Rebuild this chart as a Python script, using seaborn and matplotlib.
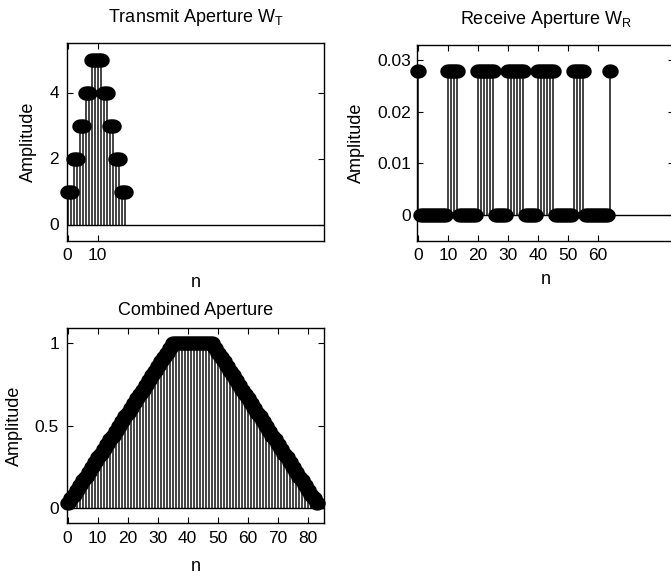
import numpy as np
import matplotlib
matplotlib.use("Agg")
import matplotlib.pyplot as plt
from matplotlib.path import Path
from matplotlib.ticker import FuncFormatter
import seaborn as sns

# ---- data -------------------------------------------------------------
# transmit aperture weights, n = 0..19
tx_weights = [1, 1, 2, 2, 3, 3, 4, 4, 5, 5, 5, 5, 4, 4, 3, 3, 2, 2, 1, 1]

# receive aperture: active elements (1) / inactive (0), n = 0..64
rx_pattern = [1,
              0, 0, 0, 0, 0, 0, 0, 0, 0,
              1, 1, 1, 1,
              0, 0, 0, 0, 0, 0,
              1, 1, 1, 1, 1, 1,
              0, 0, 0, 0,
              1, 1, 1, 1, 1, 1,
              0, 0, 0, 0,
              1, 1, 1, 1, 1, 1,
              0, 0, 0, 0, 0, 0,
              1, 1, 1, 1,
              0, 0, 0, 0, 0, 0, 0, 0,
              1]
rx_level = 0.0278

# combined aperture, n = 0..83
combined = [0.03, 0.06, 0.08, 0.11, 0.14, 0.17, 0.19, 0.22, 0.25, 0.28,
            0.31, 0.33, 0.36, 0.39, 0.42, 0.44, 0.47, 0.50, 0.53, 0.56,
            0.58, 0.61, 0.64, 0.67, 0.69, 0.72, 0.75, 0.78, 0.81, 0.83,
            0.86, 0.89, 0.92, 0.94, 0.97, 1.00, 1.00, 1.00, 1.00, 1.00,
            1.00, 1.00, 1.00, 1.00, 1.00, 1.00, 1.00, 1.00, 1.00, 0.97,
            0.94, 0.92, 0.89, 0.86, 0.83, 0.81, 0.78, 0.75, 0.72, 0.69,
            0.67, 0.64, 0.61, 0.58, 0.56, 0.53, 0.50, 0.47, 0.44, 0.42,
            0.39, 0.36, 0.33, 0.31, 0.28, 0.25, 0.22, 0.19, 0.17, 0.14,
            0.11, 0.08, 0.06, 0.03]

titles = [r"Transmit Aperture W$_T$", r"Receive Aperture W$_R$", "Combined Aperture"]

n_tx = np.arange(len(tx_weights))
rx_amp = np.array(rx_pattern) * rx_level
n_rx = np.arange(len(rx_amp))
cb_amp = np.array(combined)
n_cb = np.arange(len(cb_amp))

# ---- style ------------------------------------------------------------
sns.set_theme(style="ticks")
plt.rcParams["font.family"] = ["Liberation Sans", "DejaVu Sans"]
plt.rcParams["mathtext.default"] = "regular"
plt.rcParams["axes.linewidth"] = 1.0

# slightly wide filled oval used as stem head
t = np.linspace(0, 2 * np.pi, 60)
oval = Path(np.column_stack([1.15 * np.cos(t), np.sin(t)]), closed=True)

W, H = 671, 576
fig = plt.figure(figsize=(W / 100, H / 100), dpi=100)
fig.patch.set_facecolor("white")


def px_axes(left, top, right, bottom):
    return fig.add_axes([left / W, 1 - bottom / H, (right - left) / W, (bottom - top) / H])


def stem(ax, n, y):
    ax.axhline(0, color="black", lw=1.0, zorder=1)
    ax.vlines(n, 0, y, colors="#111111", lw=1.1, zorder=2)
    sns.scatterplot(x=n, y=y, ax=ax, marker=oval, s=140, color="black",
                    edgecolor="black", linewidth=0, legend=False, zorder=3)
    ax.collections[-1].set_clip_on(False)


def style(ax, xticks, yticks, ylim, title, title_pad, ylab_x, xlab_y, xpad, ypad):
    ax.set_facecolor("white")
    ax.set_xlim(-0.3, 85.5)
    ax.set_ylim(*ylim)
    ax.set_xticks(xticks)
    ax.set_yticks(yticks)
    ax.yaxis.set_major_formatter(FuncFormatter(lambda v, p: "%g" % v))
    ax.xaxis.set_major_formatter(FuncFormatter(lambda v, p: "%g" % v))
    ax.tick_params(axis="both", direction="in", length=4, width=0.8,
                   top=True, right=True, labelsize=12.5, colors="black")
    ax.tick_params(axis="x", pad=xpad)
    ax.tick_params(axis="y", pad=ypad)
    for s in ax.spines.values():
        s.set_visible(True)
        s.set_color("black")
    ax.set_title(title, fontsize=13, pad=title_pad, color="black")
    ax.set_xlabel("n", fontsize=13, color="black")
    ax.set_ylabel("Amplitude", fontsize=13, color="black")
    ax.yaxis.set_label_coords(ylab_x, 0.5)
    ax.xaxis.set_label_coords(0.5, xlab_y)


ax_tx = px_axes(66.7, 43, 324.1, 241)
stem(ax_tx, n_tx, np.array(tx_weights))
style(ax_tx, [0, 10], [0, 2, 4], (-0.5, 5.5), titles[0], 15, -0.115, -0.167, 5, 5.5)

ax_rx = px_axes(417.0, 45, 674.4, 241)
stem(ax_rx, n_rx, rx_amp)
style(ax_rx, [0, 10, 20, 30, 40, 50, 60], [0, 0.01, 0.02, 0.03], (-0.005, 0.0329),
      titles[1], 15, -0.202, -0.153, 5, 4.5)

ax_cb = px_axes(66.7, 328, 324.1, 523)
stem(ax_cb, n_cb, cb_amp)
style(ax_cb, list(range(0, 81, 10)), [0, 0.5, 1], (-0.089, 1.093),
      titles[2], 9.5, -0.17, -0.18, 6, 5.5)

fig.savefig("out.png", dpi=100, facecolor="white")
